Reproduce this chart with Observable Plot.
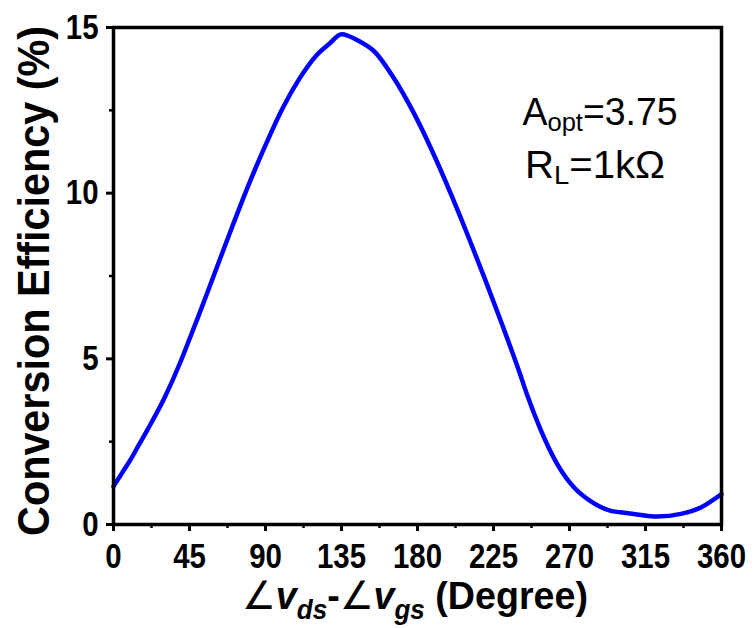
<!DOCTYPE html>
<html><head><meta charset="utf-8">
<script src="https://cdn.jsdelivr.net/npm/d3@7"></script>
<script src="https://cdn.jsdelivr.net/npm/@observablehq/plot@0.6"></script>
<style>body{margin:0;background:#fff} svg{display:block}</style>
</head><body><div id="chart"></div>
<script>
const angles =     [0,   5,    10,   15,  20,   30,  40,   45,   50,   60,  70,   80,    90,    100,   110,   120,   128,   135,  145,  155,   165,   178,  188,   200,  210, 220, 230,  240,  245, 253,  263, 273, 282,  294,  300,  308,  322,  336,  348,  360];
const efficiency = [1.15,1.55, 1.95, 2.4, 2.85, 3.8, 4.95, 5.6,  6.25, 7.6, 8.95, 10.25, 11.45, 12.55, 13.45, 14.15, 14.52, 14.8, 14.6, 14.25, 13.55, 12.4, 11.35, 9.95, 8.7, 7.4, 6.05, 4.65, 3.9, 2.85, 1.8, 1.1, 0.72, 0.42, 0.37, 0.32, 0.24, 0.32, 0.52, 0.92];
const xTicks = [0, 45, 90, 135, 180, 225, 270, 315, 360];
const xMinorTicks = [22.5, 67.5, 112.5, 157.5, 202.5, 247.5, 292.5, 337.5];
const yTicks = [0, 5, 10, 15];
const yMinorTicks = [2.5, 7.5, 12.5];
const xLabelParts = ["∠", "v", "ds", "-", "∠", "v", "gs", " (Degree)"];
const yLabel = "Conversion Efficiency (%)";

const data = angles.map((a, i) => ({angle: a, eff: efficiency[i]}));
const FONT = "'Liberation Sans Narrow', 'Arial Narrow', 'Liberation Sans', Arial, sans-serif";

const chart = Plot.plot({
  width: 754, height: 628,
  marginLeft: 113, marginRight: 33, marginTop: 27, marginBottom: 104,
  style: {fontFamily: FONT, fontSize: "35px", fontWeight: "bold", color: "#000", background: "#fff", overflow: "visible"},
  x: {domain: [0, 360]},
  y: {domain: [0, 15]},
  marks: [
    Plot.axisX(xMinorTicks, {tickSize: 4, tickFormat: () => "", strokeWidth: 2.5, label: null}),
    Plot.axisX(xTicks, {tickSize: 7, tickPadding: 12, strokeWidth: 3, label: null}),
    Plot.axisY(yMinorTicks, {tickSize: 4, tickFormat: () => "", strokeWidth: 2.5, label: null}),
    Plot.axisY(yTicks, {tickSize: 7, tickPadding: 8, strokeWidth: 3, label: null}),
    Plot.line(data, {x: "angle", y: "eff", stroke: "#0000ff", strokeWidth: 4.5, curve: "monotone-x"}),
    Plot.frame({stroke: "#000", strokeWidth: 3.5})
  ]
});
document.getElementById("chart").appendChild(chart);

const svg = d3.select(chart);
// compress tick labels to mimic a narrow face
svg.selectAll("g[aria-label='x-axis tick label'] text, g[aria-label='y-axis tick label'] text").each(function() {
  const w = this.getComputedTextLength();
  if (w > 0) { this.setAttribute("textLength", w * 0.84); this.setAttribute("lengthAdjust", "spacingAndGlyphs"); }
});

// y label (compressed with a transform so its real box stays inside the picture)
const yl = svg.append("text")
  .attr("text-anchor", "middle")
  .style("font-family", FONT).style("font-size", "44px").style("font-weight", "bold")
  .attr("fill", "#000")
  .text(yLabel);
const ylw = yl.node().getComputedTextLength();
const ysx = ylw > 0 ? 510 / ylw : 1;
yl.attr("transform", `translate(49,281) rotate(-90) scale(${ysx},1)`);

// x label
const xl = svg.append("text")
  .attr("x", 415).attr("y", 609)
  .attr("text-anchor", "middle")
  .attr("textLength", 346).attr("lengthAdjust", "spacingAndGlyphs")
  .style("font-family", FONT).style("font-size", "39px").style("font-weight", "bold")
  .attr("fill", "#000");
xl.append("tspan").style("font-weight", "normal").text(xLabelParts[0]);
xl.append("tspan").style("font-style", "italic").text(xLabelParts[1]);
xl.append("tspan").style("font-style", "italic").style("font-size", "27px").attr("dy", 10).text(xLabelParts[2]);
xl.append("tspan").attr("dy", -10).text(xLabelParts[3]);
xl.append("tspan").style("font-weight", "normal").text(xLabelParts[4]);
xl.append("tspan").style("font-style", "italic").text(xLabelParts[5]);
xl.append("tspan").style("font-style", "italic").style("font-size", "27px").attr("dy", 10).text(xLabelParts[6]);
xl.append("tspan").attr("dy", -10).text(xLabelParts[7]);

// annotation
const a1 = svg.append("text").attr("x", 600).attr("y", 125).attr("text-anchor", "middle")
  .attr("textLength", 155).attr("lengthAdjust", "spacingAndGlyphs")
  .style("font-family", FONT).style("font-size", "38px").style("font-weight", "normal").attr("fill", "#000");
a1.append("tspan").text("A");
a1.append("tspan").style("font-size", "26px").attr("dy", 6).text("opt");
a1.append("tspan").attr("dy", -6).text("=3.75");
const a2 = svg.append("text").attr("x", 595).attr("y", 178).attr("text-anchor", "middle")
  .attr("textLength", 140).attr("lengthAdjust", "spacingAndGlyphs")
  .style("font-family", FONT).style("font-size", "38px").style("font-weight", "normal").attr("fill", "#000");
a2.append("tspan").text("R");
a2.append("tspan").style("font-size", "26px").attr("dy", 6).text("L");
a2.append("tspan").attr("dy", -6).text("=1kΩ");
</script>
</body></html>
